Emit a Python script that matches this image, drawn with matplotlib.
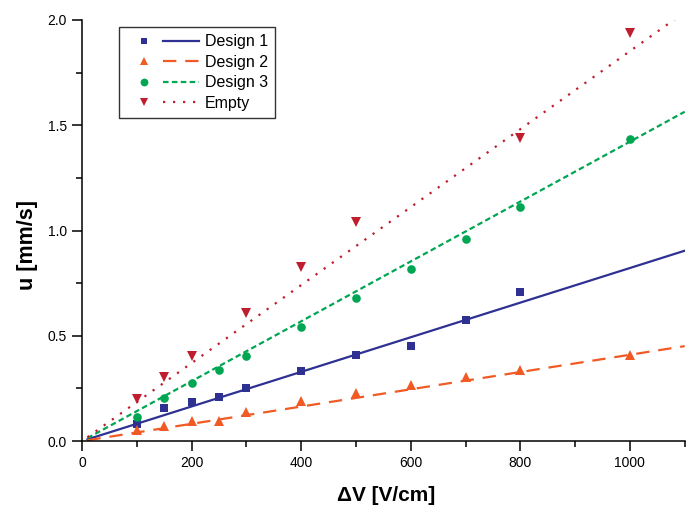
import numpy as np
import matplotlib
matplotlib.use("Agg")
import matplotlib.pyplot as plt
from matplotlib.legend_handler import HandlerTuple
from matplotlib.lines import Line2D

plt.rcParams['font.family'] = ['Liberation Sans', 'DejaVu Sans']

x_d1 = [100, 150, 200, 250, 300, 400, 500, 600, 700, 800]
y_d1 = [0.08, 0.155, 0.185, 0.21, 0.25, 0.335, 0.41, 0.45, 0.575, 0.71]
x_d2 = [100, 150, 200, 250, 300, 400, 500, 600, 700, 800, 1000]
y_d2 = [0.055, 0.07, 0.095, 0.095, 0.14, 0.19, 0.23, 0.265, 0.305, 0.34, 0.41]
x_d3 = [100, 150, 200, 250, 300, 400, 500, 600, 700, 800, 1000]
y_d3 = [0.115, 0.205, 0.275, 0.34, 0.405, 0.54, 0.68, 0.815, 0.96, 1.11, 1.435]
x_em = [100, 150, 200, 300, 400, 500, 800, 1000]
y_em = [0.20, 0.305, 0.405, 0.61, 0.825, 1.04, 1.44, 1.94]

labels = ["Design 1", "Design 2", "Design 3", "Empty"]
fit_slopes = [0.000822, 0.000410, 0.001422, 0.001852]
fit_x = [10, 1100]

colors = ["#2E3192", "#F15A24", "#00A651", "#BE1E2D"]
markers = ["s", "^", "o", "v"]
msizes = [5.3, 6.8, 6.2, 6.8]
leg_msizes = [4.8, 6.2, 5.6, 6.2]
linestyles = ["-", (0, (6, 4)), (0, (2.5, 1.5)), (0, (1, 3.5))]

fig = plt.figure(figsize=(6.96, 5.07), dpi=100)
ax = fig.add_axes([0.1178, 0.130, 0.866, 0.8306])

data = [(x_d1, y_d1), (x_d2, y_d2), (x_d3, y_d3), (x_em, y_em)]
handles = []
for (xs, ys), lab, c, m, ms, lms, ls, s in zip(data, labels, colors, markers, msizes,
                                              leg_msizes, linestyles, fit_slopes):
    fx = np.array(fit_x, dtype=float)
    ax.plot(fx, s * fx, color=c, ls=ls, lw=1.6, zorder=2)
    ax.plot(xs, ys, ls='none', marker=m, color=c, ms=ms, mew=0, zorder=3)
    mk = Line2D([], [], ls='none', marker=m, color=c, ms=lms, mew=0)
    lh = Line2D([], [], color=c, ls=ls, lw=1.6)
    handles.append((mk, lh))

ax.set_xlim(0, 1100)
ax.set_ylim(0, 2.0)
ax.set_xticks([0, 200, 400, 600, 800, 1000])
ax.set_xticks(np.arange(0, 1101, 100), minor=True)
ax.set_yticks([0.0, 0.5, 1.0, 1.5, 2.0])
ax.set_yticks(np.arange(0, 2.01, 0.25), minor=True)
ax.set_yticklabels(["0.0", "0.5", "1.0", "1.5", "2.0"])
ax.spines['top'].set_visible(False)
ax.spines['right'].set_visible(False)
ax.tick_params(which='major', direction='out', length=7, width=1.1, labelsize=10, pad=4)
ax.tick_params(which='minor', direction='out', length=4, width=1.1)
for sp in ax.spines.values():
    sp.set_linewidth(1.1)

ax.set_xlabel("ΔV [V/cm]", fontsize=15, fontweight='bold')
ax.xaxis.set_label_coords(0.505, -0.107)
ax.set_ylabel("u [mm/s]", fontsize=15.5, fontweight='bold')
ax.yaxis.set_label_coords(-0.073, 0.466)

leg = ax.legend(handles, labels, handler_map={tuple: HandlerTuple(ndivide=None, pad=0.0)},
                loc='upper left', bbox_to_anchor=(0.061, 0.983), fontsize=11.5,
                handlelength=4.6, frameon=True, fancybox=False, edgecolor='black',
                borderpad=0.45, labelspacing=0.34, handletextpad=0.35, borderaxespad=0)
leg.get_frame().set_linewidth(1.0)

fig.savefig("out.png", dpi=100)
